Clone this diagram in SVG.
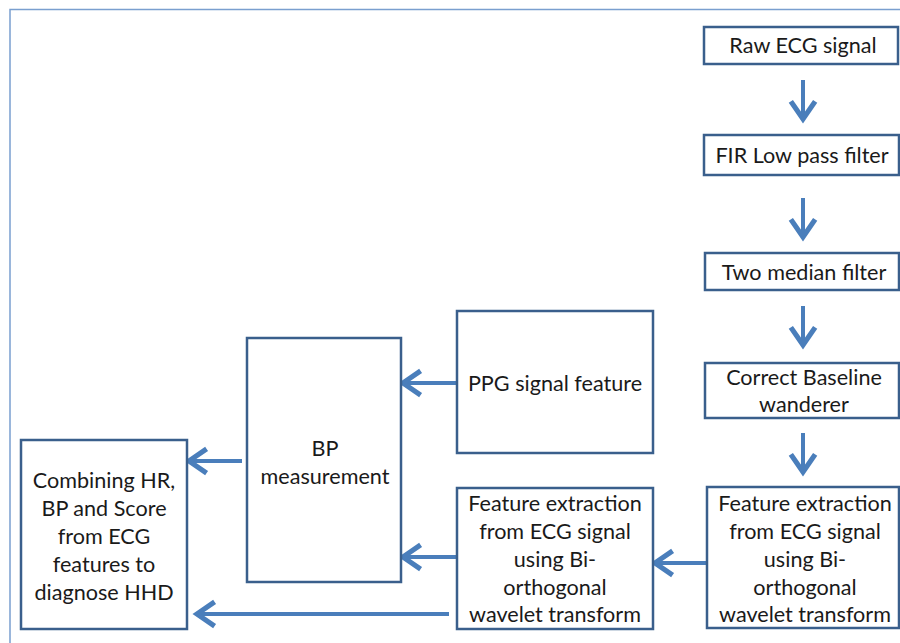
<svg xmlns="http://www.w3.org/2000/svg" width="900" height="643" viewBox="0 0 900 643">
<defs>
<style>
.box{fill:#fff;stroke:#3a5f8c;stroke-width:2.5}
.t{font-family:Lato,"Open Sans",sans-serif;font-size:21.6px;fill:#1a1a1a;text-anchor:middle}
.c{stroke:#4a7ebb;stroke-width:4;fill:none}
</style>
<marker id="ah" markerWidth="8" markerHeight="8" viewBox="0 0 10 10" refX="8.5" refY="5" orient="auto" markerUnits="strokeWidth">
<path d="M3,1.2 L8.5,5 L3,8.8" fill="none" stroke="#4a7ebb" stroke-width="1.6"/>
</marker>
</defs>
<rect width="900" height="643" fill="#fff"/>
<path d="M10,660 V9.5 H910" fill="none" stroke="#7a9fcf" stroke-width="1.5"/>
<g id="connectors">
<line class="c" x1="803" y1="80" x2="803" y2="119" marker-end="url(#ah)"/>
<line class="c" x1="803" y1="198" x2="803" y2="237" marker-end="url(#ah)"/>
<line class="c" x1="803" y1="306" x2="803" y2="345" marker-end="url(#ah)"/>
<line class="c" x1="803" y1="433" x2="803" y2="472" marker-end="url(#ah)"/>
<line class="c" x1="707" y1="563" x2="655" y2="563" marker-end="url(#ah)"/>
<line class="c" x1="457" y1="383" x2="403" y2="383" marker-end="url(#ah)"/>
<line class="c" x1="457" y1="557" x2="403" y2="557" marker-end="url(#ah)"/>
<line class="c" x1="242" y1="461" x2="189" y2="461" marker-end="url(#ah)"/>
<line class="c" x1="449" y1="614" x2="197" y2="614" marker-end="url(#ah)"/>
</g>
<g id="raw"><rect class="box" x="704" y="27" width="194" height="37"/><text class="t" x="803" y="52.5">Raw ECG signal</text></g>
<g id="fir"><rect class="box" x="704" y="135" width="195" height="40"/><text class="t" x="802" y="162.5">FIR Low pass filter</text></g>
<g id="median"><rect class="box" x="705" y="253" width="194" height="37"/><text class="t" x="804" y="279.5">Two median filter</text></g>
<g id="baseline"><rect class="box" x="705" y="363" width="194" height="55"/><text class="t" x="804" y="384.5">Correct Baseline</text><text class="t" x="804" y="411.5">wanderer</text></g>
<g id="featR"><rect class="box" x="707" y="487" width="192" height="141"/><text class="t" x="805" y="510.5">Feature extraction</text><text class="t" x="805" y="538.5">from ECG signal</text><text class="t" x="805" y="566.5">using Bi-</text><text class="t" x="805" y="594.5">orthogonal</text><text class="t" x="805" y="621.5">wavelet transform</text></g>
<g id="ppg"><rect class="box" x="457" y="311" width="196" height="142"/><text class="t" x="555" y="390.5">PPG signal feature</text></g>
<g id="featL"><rect class="box" x="457" y="488" width="196" height="141"/><text class="t" x="555" y="510.5">Feature extraction</text><text class="t" x="555" y="538.5">from ECG signal</text><text class="t" x="555" y="566.5">using Bi-</text><text class="t" x="555" y="594.5">orthogonal</text><text class="t" x="555" y="621.5">wavelet transform</text></g>
<g id="bp"><rect class="box" x="247" y="338" width="154" height="244"/><text class="t" x="325" y="455.5">BP</text><text class="t" x="325" y="483.5">measurement</text></g>
<g id="combine"><rect class="box" x="21" y="440" width="166" height="189"/><text class="t" x="104" y="487.5">Combining HR,</text><text class="t" x="104" y="515.5">BP and Score</text><text class="t" x="104" y="543.5">from ECG</text><text class="t" x="104" y="571.5">features to</text><text class="t" x="104" y="599.5">diagnose HHD</text></g>
</svg>
